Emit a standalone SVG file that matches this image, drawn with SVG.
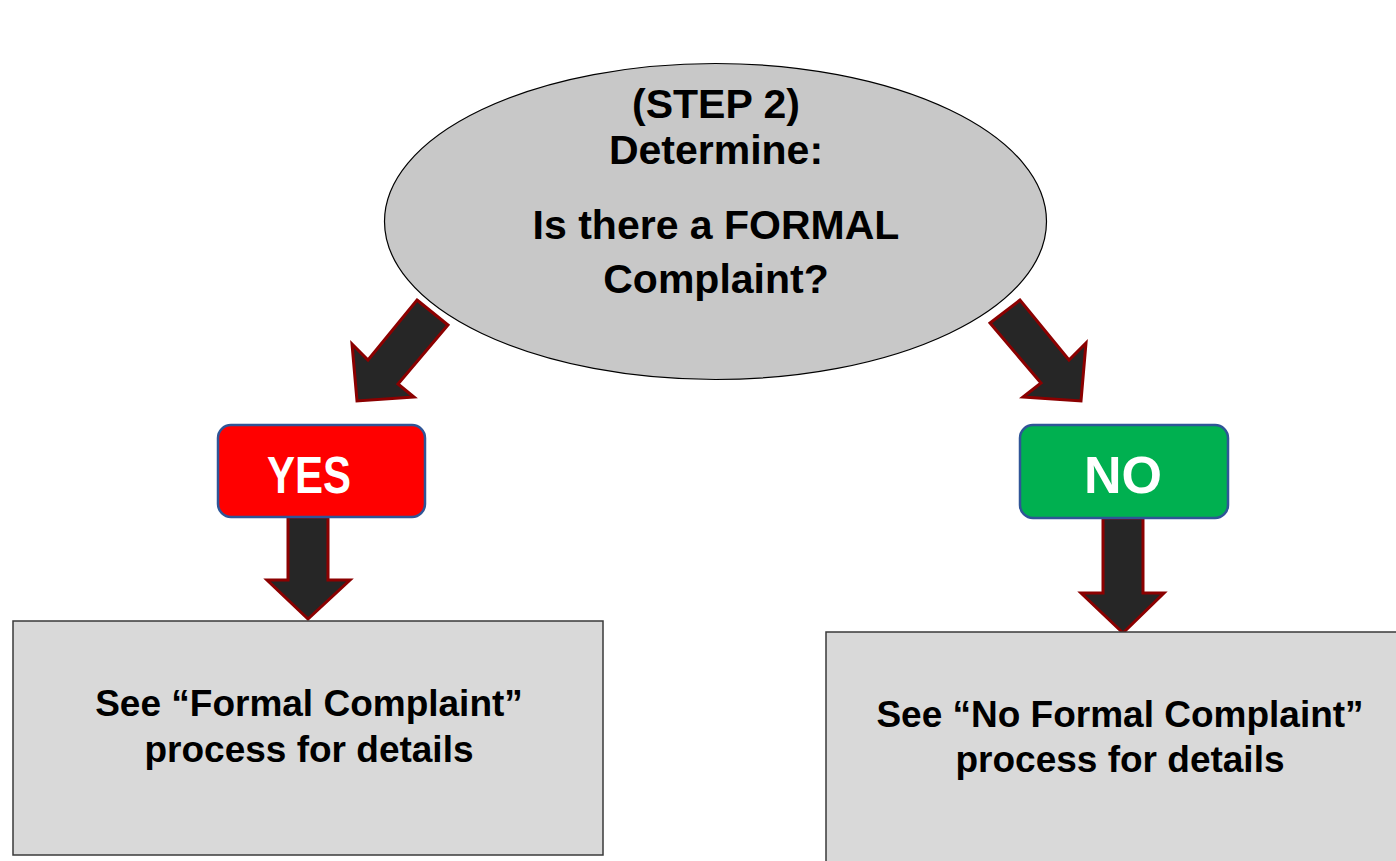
<svg xmlns="http://www.w3.org/2000/svg" width="1396" height="861" viewBox="0 0 1396 861">
<style>
.arrow{fill:#262626;stroke:#8B0000;stroke-width:3;stroke-linejoin:miter}
.box{fill:#D9D9D9;stroke:#3A3A3A;stroke-width:1.5}
.t{font-family:"Liberation Sans",Arial,sans-serif;font-weight:bold;fill:#000;text-anchor:middle}
.lbl{font-family:"Liberation Sans",Arial,sans-serif;font-weight:bold;fill:#FFFFFF;text-anchor:middle;font-size:52px}
</style>
<rect width="1396" height="861" fill="#FFFFFF"/>
<g id="connectors">
<polygon class="arrow" points="417,300 448,325 398,384 414,397 357,401 352,344 368,360"/>
<polygon class="arrow" points="1020,300 990,323 1041,383 1023,397 1081,401 1086,343 1069,360"/>
<polygon class="arrow" points="288,517 328,517 328,580 350,580 308,619 267,580 288,580"/>
<polygon class="arrow" points="1103,518 1143,518 1143,593 1164,593 1123,633 1081,593 1103,593"/>
</g>
<g id="decision">
<ellipse cx="715.5" cy="221.5" rx="331" ry="158" fill="#C8C8C8" stroke="#000" stroke-width="1.2"/>
<text class="t" x="716" y="118" font-size="41">(STEP 2)</text>
<text class="t" x="716" y="164" font-size="41">Determine:</text>
<text class="t" x="716" y="239" font-size="41">Is there a FORMAL</text>
<text class="t" x="716" y="293" font-size="41">Complaint?</text>
</g>
<g id="yes">
<rect x="218" y="425" width="207" height="92" rx="13" fill="#FF0000" stroke="#2F5597" stroke-width="2.5"/>
<text class="lbl" x="309" y="493" textLength="84" lengthAdjust="spacingAndGlyphs">YES</text>
</g>
<g id="no">
<rect x="1020" y="425" width="208" height="93" rx="13" fill="#00B050" stroke="#2F5597" stroke-width="2.5"/>
<text class="lbl" x="1123" y="493">NO</text>
</g>
<g id="formal">
<rect class="box" x="13" y="621" width="590" height="234"/>
<text class="t" x="309" y="716" font-size="37">See “Formal Complaint”</text>
<text class="t" x="309" y="762" font-size="37">process for details</text>
</g>
<g id="noformal">
<rect class="box" x="826" y="632" width="580" height="240"/>
<text class="t" x="1120" y="727" font-size="37">See “No Formal Complaint”</text>
<text class="t" x="1120" y="772" font-size="37">process for details</text>
</g>
</svg>
